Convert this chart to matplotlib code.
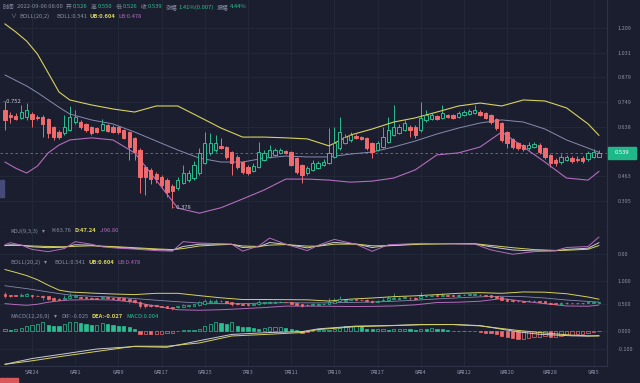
import numpy as np
import matplotlib
matplotlib.use("Agg")
import matplotlib.pyplot as plt
from matplotlib.patches import Rectangle
from matplotlib.ticker import NullLocator, NullFormatter

plt.rcParams['font.family'] = ['Noto Sans CJK SC', 'DejaVu Sans']

BG = '#1b1e2f'
GRID = '#252a3c'
SEP = '#2e3348'
TXT = '#8a8fa5'
UP = '#2bbf90'
DOWN = '#ef6b6e'
YEL = '#d6d25e'
MIDC = '#878bb0'
PUR = '#b46cbc'
KCOL = '#c9cad4'

# --- daily candles, 2022-05-19 .. 2022-09-06 ---
opens = [
    0.711, 0.689, 0.684, 0.676, 0.680, 0.693, 0.680, 0.680, 0.671, 0.637,
    0.617, 0.613, 0.625, 0.658, 0.658, 0.650, 0.637, 0.633, 0.625, 0.646,
    0.637, 0.637, 0.625, 0.617, 0.594, 0.549, 0.492, 0.483, 0.470, 0.461,
    0.452, 0.435, 0.430, 0.444, 0.452, 0.458, 0.473, 0.505, 0.539, 0.549,
    0.563, 0.560, 0.542, 0.525, 0.508, 0.492, 0.480, 0.492, 0.515, 0.525,
    0.532, 0.539, 0.545, 0.542, 0.520, 0.498, 0.473, 0.483, 0.488, 0.498,
    0.505, 0.525, 0.556, 0.575, 0.586, 0.601, 0.597, 0.594, 0.575, 0.549,
    0.560, 0.580, 0.605, 0.613, 0.625, 0.637, 0.637, 0.625, 0.667, 0.671,
    0.684, 0.676, 0.689, 0.689, 0.680, 0.689, 0.693, 0.697, 0.702, 0.697,
    0.689, 0.671, 0.654, 0.617, 0.590, 0.575, 0.567, 0.556, 0.560, 0.567,
    0.556, 0.532, 0.515, 0.508, 0.515, 0.520, 0.518, 0.520, 0.518, 0.525,
    0.526]
closes = [
    0.667, 0.680, 0.671, 0.702, 0.711, 0.671, 0.676, 0.650, 0.613, 0.597,
    0.597, 0.637, 0.680, 0.680, 0.637, 0.625, 0.613, 0.617, 0.650, 0.621,
    0.617, 0.617, 0.594, 0.560, 0.542, 0.461, 0.461, 0.455, 0.455, 0.438,
    0.419, 0.421, 0.452, 0.473, 0.473, 0.498, 0.539, 0.575, 0.575, 0.575,
    0.556, 0.525, 0.505, 0.492, 0.476, 0.473, 0.495, 0.542, 0.539, 0.549,
    0.549, 0.549, 0.539, 0.498, 0.476, 0.467, 0.488, 0.505, 0.505, 0.508,
    0.539, 0.575, 0.617, 0.597, 0.605, 0.594, 0.590, 0.556, 0.542, 0.575,
    0.597, 0.625, 0.637, 0.637, 0.654, 0.625, 0.605, 0.676, 0.689, 0.689,
    0.671, 0.697, 0.680, 0.676, 0.697, 0.702, 0.706, 0.711, 0.689, 0.676,
    0.658, 0.633, 0.586, 0.575, 0.560, 0.556, 0.552, 0.567, 0.571, 0.542,
    0.525, 0.505, 0.505, 0.525, 0.525, 0.512, 0.515, 0.512, 0.539, 0.542,
    0.539]
highs = [
    0.752, 0.702, 0.697, 0.735, 0.745, 0.700, 0.690, 0.688, 0.676, 0.640,
    0.625, 0.689, 0.730, 0.711, 0.665, 0.655, 0.642, 0.637, 0.671, 0.650,
    0.645, 0.643, 0.630, 0.622, 0.598, 0.555, 0.498, 0.490, 0.476, 0.466,
    0.458, 0.440, 0.460, 0.498, 0.483, 0.510, 0.555, 0.617, 0.613, 0.605,
    0.594, 0.565, 0.546, 0.530, 0.512, 0.498, 0.505, 0.578, 0.550, 0.567,
    0.556, 0.555, 0.550, 0.546, 0.525, 0.502, 0.495, 0.515, 0.512, 0.518,
    0.633, 0.637, 0.680, 0.610, 0.617, 0.608, 0.603, 0.598, 0.580, 0.583,
    0.637, 0.680, 0.735, 0.650, 0.665, 0.645, 0.645, 0.750, 0.711, 0.697,
    0.690, 0.735, 0.695, 0.695, 0.705, 0.710, 0.715, 0.735, 0.710, 0.702,
    0.693, 0.676, 0.660, 0.622, 0.594, 0.580, 0.572, 0.578, 0.580, 0.575,
    0.560, 0.536, 0.520, 0.535, 0.533, 0.528, 0.528, 0.528, 0.546, 0.552,
    0.550]
lows = [
    0.625, 0.654, 0.667, 0.672, 0.667, 0.637, 0.665, 0.597, 0.594, 0.586,
    0.590, 0.605, 0.620, 0.650, 0.630, 0.618, 0.605, 0.612, 0.620, 0.615,
    0.612, 0.610, 0.588, 0.515, 0.515, 0.416, 0.410, 0.440, 0.445, 0.430,
    0.405, 0.378, 0.425, 0.440, 0.446, 0.452, 0.468, 0.500, 0.530, 0.542,
    0.552, 0.518, 0.467, 0.485, 0.470, 0.468, 0.476, 0.488, 0.510, 0.520,
    0.528, 0.535, 0.535, 0.494, 0.470, 0.444, 0.466, 0.478, 0.485, 0.494,
    0.500, 0.520, 0.550, 0.570, 0.580, 0.588, 0.585, 0.550, 0.520, 0.545,
    0.555, 0.575, 0.600, 0.608, 0.620, 0.597, 0.594, 0.618, 0.660, 0.665,
    0.665, 0.672, 0.674, 0.670, 0.675, 0.684, 0.688, 0.692, 0.684, 0.670,
    0.650, 0.625, 0.580, 0.556, 0.552, 0.549, 0.546, 0.550, 0.555, 0.536,
    0.518, 0.492, 0.495, 0.502, 0.510, 0.505, 0.508, 0.505, 0.512, 0.520,
    0.526]

# --- BOLL(20,2) ---
boll_day = [0, 2, 4, 6, 8, 10, 12, 16, 20, 24, 28, 32, 36, 40, 44, 48, 52, 56, 60,
            64, 68, 72, 76, 80, 84, 88, 92, 96, 100, 104, 108, 110]
boll_ub = [1.241, 1.178, 1.111, 1.022, 0.904, 0.799, 0.759, 0.735, 0.716, 0.702,
           0.730, 0.730, 0.680, 0.633, 0.597, 0.597, 0.594, 0.590, 0.564, 0.605,
           0.629, 0.658, 0.676, 0.702, 0.730, 0.744, 0.730, 0.759, 0.754, 0.721,
           0.650, 0.604]
boll_mid = [0.892, 0.861, 0.831, 0.796, 0.759, 0.724, 0.693, 0.667, 0.650, 0.617,
            0.582, 0.549, 0.521, 0.508, 0.508, 0.521, 0.528, 0.525, 0.525, 0.535,
            0.542, 0.560, 0.582, 0.609, 0.633, 0.654, 0.667, 0.658, 0.629, 0.586,
            0.556, 0.541]
boll_lb = [0.508, 0.488, 0.473, 0.495, 0.539, 0.567, 0.586, 0.594, 0.586, 0.539,
           0.452, 0.377, 0.365, 0.378, 0.400, 0.424, 0.455, 0.455, 0.452, 0.446,
           0.449, 0.458, 0.483, 0.532, 0.539, 0.560, 0.617, 0.560, 0.508, 0.458,
           0.452, 0.478]

# --- KDJ(9,3,3) ---
kdj_day = [0, 1, 3, 5, 8, 11, 13, 16, 18, 21, 24, 28, 31, 33, 36, 40, 42, 44, 47,
           49, 52, 56, 58, 61, 65, 68, 71, 77, 83, 87, 90, 94, 98, 102, 104, 108, 110]
kdj_k = [48, 52, 50, 40, 35, 38, 52, 50, 42, 36, 30, 24, 20, 42, 55, 56, 55, 36, 40,
         65, 55, 34, 45, 66, 56, 36, 48, 58, 58, 57, 40, 22, 16, 17, 25, 32, 63.76]
kdj_d = [47, 48, 48, 45, 42, 40, 43, 46, 44, 40, 35, 28, 24, 30, 45, 52, 54, 45, 42,
         50, 53, 44, 44, 55, 56, 46, 46, 55, 58, 58, 48, 35, 24, 19, 20, 26, 47.24]
kdj_j = [52, 64, 50, 25, 12, 30, 70, 55, 40, 32, 27, 18, 15, 70, 62, 58, 55, 15, 45,
         91, 55, 18, 49, 83, 55, 14, 52, 60, 58, 56, 22, -3, 12, 18, 36, 42, 96.80]

# --- MACD(12,26,9) ---
macd_day = [0, 5, 11, 17, 24, 30, 36, 42, 49, 55, 58, 65, 71, 77, 83, 88, 92, 95,
            99, 102, 105, 108, 110]
dif = [-0.190, -0.157, -0.130, -0.102, -0.088, -0.092, -0.054, -0.018, -0.007, -0.002,
       0.014, 0.030, 0.033, 0.039, 0.039, 0.033, 0.012, -0.003, -0.017, -0.022,
       -0.026, -0.028, -0.025]
dea = [-0.190, -0.170, -0.142, -0.116, -0.086, -0.086, -0.067, -0.027, -0.017, -0.007,
       0.010, 0.027, 0.032, 0.038, 0.039, 0.031, 0.016, 0.005, -0.007, -0.015,
       -0.022, -0.026, -0.027]
macd_hist = [
    0.011, 0.007, 0.015, 0.020, 0.033, 0.039, 0.044, 0.052, 0.037, 0.033,
    0.030, 0.044, 0.052, 0.056, 0.048, 0.044, 0.039, 0.039, 0.048, 0.044,
    0.035, 0.033, 0.030, 0.026, 0.011, -0.015, -0.015, -0.016, -0.015, -0.014,
    -0.012, -0.010, 0.002, 0.005, 0.008, 0.010, 0.012, 0.033, 0.044, 0.052,
    0.048, 0.041, 0.052, 0.030, 0.026, 0.022, 0.019, 0.015, 0.020, 0.022,
    0.022, 0.026, 0.019, 0.011, 0.007, -0.007, -0.005, 0.003, 0.005, 0.007,
    0.007, 0.011, 0.020, 0.030, 0.033, 0.033, 0.030, 0.015, 0.011, 0.011,
    0.011, 0.007, 0.011, 0.011, 0.013, 0.011, 0.009, 0.013, 0.011, 0.018,
    0.015, 0.011, 0.007, 0.004, 0.004, 0.002, 0.001, 0.001, -0.002, -0.007,
    -0.011, -0.017, -0.026, -0.035, -0.041, -0.044, -0.043, -0.040, -0.035, -0.031,
    -0.027, -0.033, -0.030, -0.026, -0.021, -0.019, -0.015, -0.014, -0.011, -0.006,
    0.004]

date_day = [5, 13, 21, 29, 37, 45, 53, 61, 69, 77, 85, 93, 101, 109]
date_labels = ['5月24', '6月1', '6月9', '6月17', '6月25', '7月3', '7月11', '7月19',
               '7月27', '8月4', '8月12', '8月20', '8月28', '9月5']
price_ticks = [1.209, 1.031, 0.879, 0.749, 0.638, 0.463, 0.395]

W, H = 640, 383
fig = plt.figure(figsize=(6.4, 3.83), dpi=100, facecolor=BG)


def add_ax(top, bottom):
    ax = fig.add_axes([0, 1 - bottom / H, 607 / W, (bottom - top) / H], facecolor=BG)
    ax.set_xlim(-0.93, 111.5)
    for s in ax.spines.values():
        s.set_visible(False)
    for s in ('bottom', 'right'):
        ax.spines[s].set_visible(True)
        ax.spines[s].set_color(SEP)
        ax.spines[s].set_linewidth(0.8)
    ax.yaxis.tick_right()
    ax.tick_params(axis='y', length=0, pad=7.5, labelsize=4, labelcolor=TXT)
    ax.set_xticks(date_day)
    ax.set_xticklabels(date_labels)
    ax.tick_params(axis='x', length=0, labelbottom=False, labelsize=4, labelcolor=TXT, pad=2.5)
    ax.grid(True, color=GRID, lw=0.6)
    ax.set_axisbelow(True)
    return ax


ax_main = add_ax(0, 227)
ax_kdj = add_ax(227, 257)
ax_boll = add_ax(257, 311)
ax_macd = add_ax(311, 366)

o = np.array(opens)
c = np.array(closes)
hi = np.array(highs)
lo = np.array(lows)
idx = np.arange(len(c))
up = c >= o


def draw_candles(ax, width, lw):
    ax.vlines(idx, lo, hi, colors=np.where(up, UP, DOWN), lw=lw, zorder=2)
    base = np.minimum(o, c)
    size = np.maximum(np.abs(c - o), 0.002)
    ax.bar(idx[up], size[up], width, bottom=base[up], facecolor=BG,
           edgecolor=UP, lw=lw, zorder=3)
    ax.bar(idx[~up], size[~up], width, bottom=base[~up], color=DOWN,
           edgecolor=DOWN, lw=lw, zorder=3)


# main price pane
ax_main.set_yscale('log')
ax_main.set_ylim(0.3337, 1.449)
ax_main.yaxis.set_minor_locator(NullLocator())
ax_main.yaxis.set_minor_formatter(NullFormatter())
ax_main.set_yticks(price_ticks)
ax_main.set_yticklabels([f'{v:.3f}' for v in price_ticks])
draw_candles(ax_main, 0.62, 0.7)
ax_main.plot(boll_day, boll_ub, color=YEL, lw=0.8)
ax_main.plot(boll_day, boll_mid, color=MIDC, lw=0.7)
ax_main.plot(boll_day, boll_lb, color=PUR, lw=0.8)
ax_main.axhline(c[-1], color=UP, lw=0.6, ls=(0, (3, 3)), alpha=0.8)

i_hi = int(np.argmax(hi))
i_lo = int(np.argmin(lo))
ax_main.annotate(f'- {hi[i_hi]:.3f}', xy=(i_hi, hi[i_hi]), xytext=(-1.5, 0),
                 textcoords='offset points', va='center', ha='left',
                 fontsize=4.2, color='#c4c6d2')
ax_main.annotate(f'- {lo[i_lo]:.3f}', xy=(i_lo, lo[i_lo]), xytext=(0.5, 0),
                 textcoords='offset points', va='center', ha='left',
                 fontsize=4.2, color='#c4c6d2')

# KDJ pane
ax_kdj.set_ylim(-19, 155)
ax_kdj.set_yticks([0])
ax_kdj.set_yticklabels(['0.00'])
ax_kdj.plot(kdj_day, kdj_k, color=KCOL, lw=0.7)
ax_kdj.plot(kdj_day, kdj_d, color=YEL, lw=0.7)
ax_kdj.plot(kdj_day, kdj_j, color=PUR, lw=0.7)

# second BOLL pane (linear)
ax_boll.set_ylim(0.35, 1.51)
ax_boll.set_yticks([1.0, 0.5])
ax_boll.set_yticklabels(['1.000', '0.500'])
draw_candles(ax_boll, 0.5, 0.5)
ax_boll.plot(boll_day, boll_ub, color=YEL, lw=0.7)
ax_boll.plot(boll_day, boll_mid, color=MIDC, lw=0.6)
ax_boll.plot(boll_day, boll_lb, color=PUR, lw=0.7)

# MACD pane
hist = np.array(macd_hist)
prev = np.r_[hist[0], hist[:-1]]
edge = np.where(hist >= 0, UP, DOWN)
face = np.where(hist < prev, edge, BG)
ax_macd.set_ylim(-0.2, 0.117)
ax_macd.set_yticks([0.0, -0.1])
ax_macd.set_yticklabels(['0.000', '-0.100'])
ax_macd.bar(idx, hist, 0.6, color=face, edgecolor=edge, lw=0.5, zorder=3)
ax_macd.plot(macd_day, dif, color=KCOL, lw=0.7, zorder=4)
ax_macd.plot(macd_day, dea, color=YEL, lw=0.7, zorder=4)
ax_macd.tick_params(axis='x', labelbottom=True)

# current price tag on the right axis
fig.canvas.draw()
y_pix = ax_main.transData.transform((0, c[-1]))[1]
fig.patches.append(Rectangle((608 / W, (y_pix - 6) / H), 28 / W, 12 / H,
                             transform=fig.transFigure, color='#1fb889', zorder=5))
fig.text(622 / W, y_pix / H, f'{c[-1]:.3f}', color='white', fontsize=4.2,
         ha='center', va='center', zorder=6)

# small side tabs
fig.patches.append(Rectangle((0, 1 - 197 / H), 4 / W, 17 / H,
                             transform=fig.transFigure, color='#454a78'))
fig.patches.append(Rectangle((0, 0), 18 / W, 5 / H,
                             transform=fig.transFigure, color='#d9575a'))

renderer = fig.canvas.get_renderer()


def label_row(x, y, pieces, size=4.2):
    for text, color, gap, bold in pieces:
        t = fig.text(x / W, 1 - y / H, text, color=color, fontsize=size,
                     fontweight='bold' if bold else 'normal', va='center', ha='left')
        x = t.get_window_extent(renderer).x1 + gap


label_row(3, 7, [('时间', TXT, 2, False), ('2022-09-06 08:00', TXT, 3, False),
                 ('开', TXT, 1.5, False), ('0.526', UP, 3, False),
                 ('高', TXT, 1.5, False), ('0.550', UP, 3, False),
                 ('低', TXT, 1.5, False), ('0.526', UP, 3, False),
                 ('收', TXT, 1.5, False), ('0.539', UP, 3, False),
                 ('涨幅', TXT, 1.5, False), ('1.41%(0.007)', UP, 3, False),
                 ('振幅', TXT, 1.5, False), ('4.44%', UP, 3, False)])
label_row(10, 16, [('∨', TXT, 3, False), ('BOLL(20,2)', TXT, 7, False),
                   ('BOLL:0.541', TXT, 3, False), ('UB:0.604', YEL, 3, True),
                   ('LB:0.478', PUR, 3, False)])
label_row(10, 231, [('KDJ(9,3,3)', TXT, 4, False), ('▾', TXT, 7, False),
                    ('K:63.76', TXT, 3, False), ('D:47.24', YEL, 3, True),
                    ('J:96.80', PUR, 3, False)])
label_row(10, 262, [('BOLL(20,2)', TXT, 4, False), ('▾', TXT, 7, False),
                    ('BOLL:0.541', TXT, 3, False), ('UB:0.604', YEL, 3, True),
                    ('LB:0.478', PUR, 3, False)])
label_row(10, 316, [('MACD(12,26,9)', TXT, 4, False), ('▾', TXT, 5, False),
                    ('DIF:-0.025', TXT, 3, False), ('DEA:-0.027', YEL, 3, True),
                    ('MACD:0.004', UP, 3, False)])

fig.savefig('out.png', dpi=100, facecolor=BG)
